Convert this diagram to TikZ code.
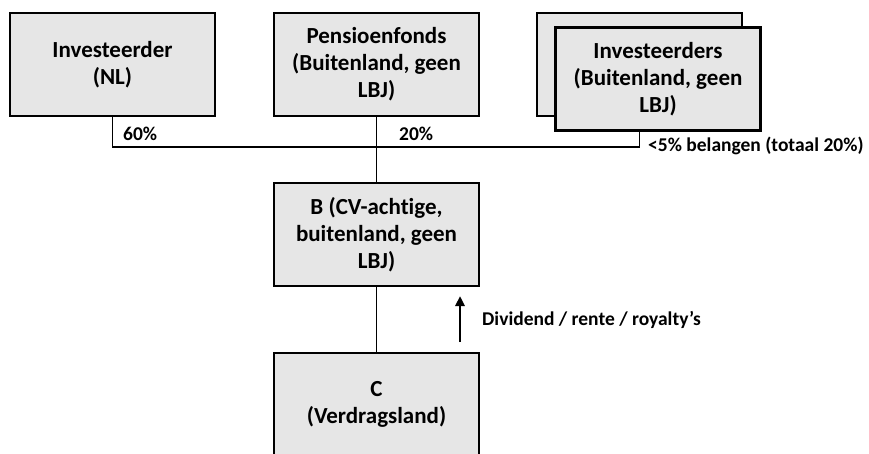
\documentclass[tikz,border=0pt]{standalone}
\usepackage{fontspec}
\setmainfont{Carlito}[Ligatures=NoCommon]
\usetikzlibrary{arrows.meta}

\begin{document}
\begin{tikzpicture}[x=1pt,y=1pt,yscale=-1,
  party/.style = {draw, line width=2.6pt,
  fill={rgb, 255:red, 230; green, 230; blue, 230},
  minimum width=205pt, minimum height=103pt, align=center,
  font=\fontsize{23}{27}\selectfont\bfseries},
  share/.style = {inner sep=0pt, font=\fontsize{19.5}{22}\selectfont\bfseries},
  link/.style = {line width=1.3pt},
  >={Triangle[length=10pt,width=9pt]}]
  \useasboundingbox (0,0) rectangle (869,453);

  % shareholders
  \node[party] (nl) at (112.5,64.5) {Investeerder\\(NL)};
  \node[party] (pens) at (376.5,64.5) {Pensioenfonds\\(Buitenland, geen\\LBJ)};
  \node[party] (invback) at (639.5,64.5) {};
  \node[party] (inv) at (658,79) {Investeerders\\(Buitenland, geen\\LBJ)};

  % entities
  \node[party] (b) at (376.5,234.5) {B (CV-achtige,\\buitenland, geen\\LBJ)};
  \node[party] (c) at (376.5,404.5) {C\\(Verdragsland)};

  \coordinate (bus) at (376.5,147);
  \draw[link] (nl.south) |- (bus) -| (invback.center |- inv.south);
  \draw[link] (pens) -- (b);
  \draw[link] (b) -- (c);

  \node[share, anchor=west] (p60) at (123,134) {60\%};
  \node[share, anchor=west] (p20) at (399,134) {20\%};
  \node[share, anchor=west] (p5) at (648,146) {<5\% belangen (totaal 20\%)};

  % payment flow
  \coordinate (flowfrom) at (460,342);
  \coordinate (flowto) at (460,296);
  \draw[->, line width=2.6pt] (flowfrom) -- (flowto);
  \node[share, anchor=west] (flow) at (482,320) {Dividend / rente / royalty’s};
\end{tikzpicture}
\end{document}
